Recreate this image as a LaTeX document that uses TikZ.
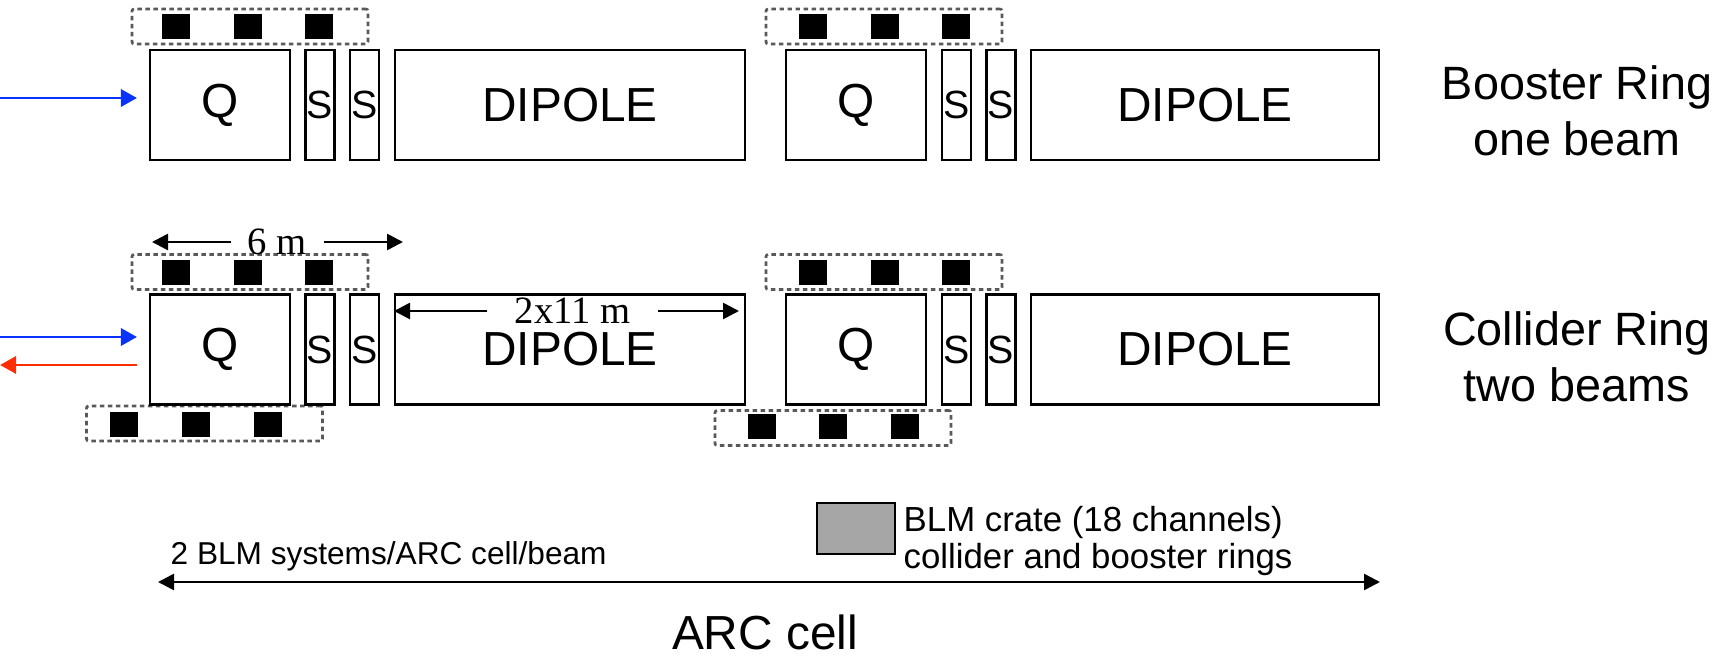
\documentclass[tikz,border=0pt]{standalone}
\usepackage{fontspec}
\setmainfont{Liberation Sans}
\newfontfamily\timesfont{Liberation Serif}
\usepackage{tikz}
\usetikzlibrary{arrows.meta}
\definecolor{beamblue}{RGB}{10,50,255}
\definecolor{beamred}{RGB}{255,45,0}
\tikzset{
  magnet/.style={draw, line width=0.75pt, minimum height=1.10cm, inner sep=0pt, outer sep=0pt,
    font=\fontsize{13.6}{15}\selectfont},
  sext/.style={magnet, minimum width=0.29cm, font=\fontsize{11.2}{12}\selectfont},
  blmgroup/.style={draw=black!65, line width=0.75pt, dash pattern=on 0.045cm off 0.035cm,
    rounded corners=0.02cm, minimum width=2.36cm, minimum height=0.35cm, inner sep=0pt, outer sep=0pt},
  blm/.style={fill=black, minimum width=0.28cm, minimum height=0.25cm, inner sep=0pt},
  beam/.style={line width=0.85pt, -{Triangle[length=0.16cm,width=0.17cm]}},
  dim/.style={line width=0.75pt, -{Triangle[length=0.16cm,width=0.16cm]}},
  dimlabel/.style={inner sep=0pt, font=\timesfont\fontsize{11}{12}\selectfont}
}
\begin{document}
\begin{tikzpicture}[x=1cm, y=-1cm]
     \useasboundingbox (0,0) rectangle (17.16,6.58);
     \node[blmgroup] (bua) at (2.50,0.265) {};
     \node[blmgroup] (bub) at (8.84,0.265) {};
     \node[blmgroup] (cua) at (2.50,2.72) {};
     \node[blmgroup] (cub) at (8.84,2.72) {};
     \node[blmgroup] (cla) at (2.045,4.235) {};
     \node[blmgroup] (clb) at (8.33,4.28) {};
     \node[blm] (bua1) at (1.76,0.265) {};
     \node[blm] (bua2) at (2.475,0.265) {};
     \node[blm] (bua3) at (3.19,0.265) {};
     \node[blm] (bub1) at (8.13,0.265) {};
     \node[blm] (bub2) at (8.845,0.265) {};
     \node[blm] (bub3) at (9.555,0.265) {};
     \node[blm] (cua1) at (1.76,2.72) {};
     \node[blm] (cua2) at (2.475,2.72) {};
     \node[blm] (cua3) at (3.19,2.72) {};
     \node[blm] (cub1) at (8.13,2.72) {};
     \node[blm] (cub2) at (8.845,2.72) {};
     \node[blm] (cub3) at (9.555,2.72) {};
     \node[blm] (cla1) at (1.245,4.245) {};
     \node[blm] (cla2) at (1.955,4.245) {};
     \node[blm] (cla3) at (2.675,4.245) {};
     \node[blm] (clb1) at (7.615,4.265) {};
     \node[blm] (clb2) at (8.33,4.265) {};
     \node[blm] (clb3) at (9.045,4.265) {};

     \node[magnet, minimum width=1.40cm] (bq1) at (2.20,1.05) {Q};
     \node[sext] (bs1) at (3.20,1.05) {S};
     \node[sext] (bs2) at (3.645,1.05) {S};
     \node[magnet, minimum width=3.50cm] (bd1) at (5.70,1.05) {DIPOLE};
     \node[magnet, minimum width=1.40cm] (bq2) at (8.56,1.05) {Q};
     \node[sext] (bs3) at (9.565,1.05) {S};
     \node[sext] (bs4) at (10.01,1.05) {S};
     \node[magnet, minimum width=3.48cm] (bd2) at (12.05,1.05) {DIPOLE};

     \node[magnet, minimum width=1.40cm] (cq1) at (2.20,3.495) {Q};
     \node[sext] (cs1) at (3.20,3.495) {S};
     \node[sext] (cs2) at (3.645,3.495) {S};
     \node[magnet, minimum width=3.50cm] (cd1) at (5.70,3.495) {DIPOLE};
     \node[magnet, minimum width=1.40cm] (cq2) at (8.56,3.495) {Q};
     \node[sext] (cs3) at (9.565,3.495) {S};
     \node[sext] (cs4) at (10.01,3.495) {S};
     \node[magnet, minimum width=3.48cm] (cd2) at (12.05,3.495) {DIPOLE};

     \coordinate (bin) at (0,0.98);
     \coordinate (cin) at (0,3.37);
     \coordinate (cout) at (0,3.65);
     \draw[beam, beamblue] (bin) -- ([xshift=-0.13cm]bin -| bq1.west);
     \draw[beam, beamblue] (cin) -- ([xshift=-0.13cm]cin -| cq1.west);
     \draw[beam, beamred] ([xshift=-0.13cm]cout -| cq1.west) -- (cout);

     \node[dimlabel, minimum width=0.91cm] (m6) at (2.775,2.42) {6 m};
     \coordinate (m6l) at (1.52,2.42);
     \coordinate (m6r) at (4.03,2.42);
     \draw[dim] (m6) -- (m6l);
     \draw[dim] (m6) -- (m6r);
     \node[dimlabel, minimum width=1.69cm] (m22) at (5.725,3.11) {2x11 m};
     \coordinate (m22l) at (3.94,3.11);
     \coordinate (m22r) at (7.39,3.11);
     \draw[dim] (m22) -- (m22l);
     \draw[dim] (m22) -- (m22r);

     \node[align=center, inner sep=0pt, font=\fontsize{13.3}{15.9}\selectfont] (booster) at (15.77,1.11) {Booster Ring\\one beam};
     \node[align=center, inner sep=0pt, font=\fontsize{13.3}{15.9}\selectfont] (collider) at (15.77,3.57) {Collider Ring\\two beams};

     \node[draw, line width=0.75pt, fill=black!35, minimum width=0.78cm, minimum height=0.51cm, inner sep=0pt] (crate) at (8.56,5.285) {};
     \node[anchor=west, align=left, inner sep=0pt, font=\fontsize{9.9}{10.4}\selectfont] (cratetxt) at (9.03,5.41) {BLM crate (18 channels)\\collider and booster rings};
     \node[anchor=base west, inner sep=0pt, font=\fontsize{9}{11}\selectfont] (blmsys) at (1.70,5.65) {2 BLM systems/ARC cell/beam};
     \coordinate (arcl) at (1.58,5.82);
     \coordinate (arcr) at (13.80,5.82);
     \draw[dim, {Triangle[length=0.16cm,width=0.16cm]}-{Triangle[length=0.16cm,width=0.16cm]}] (arcl) -- (arcr);
     \node[anchor=base, inner sep=0pt, font=\fontsize{13.6}{15}\selectfont] (arc) at (7.65,6.49) {ARC cell};
    \end{tikzpicture}
\end{document}
